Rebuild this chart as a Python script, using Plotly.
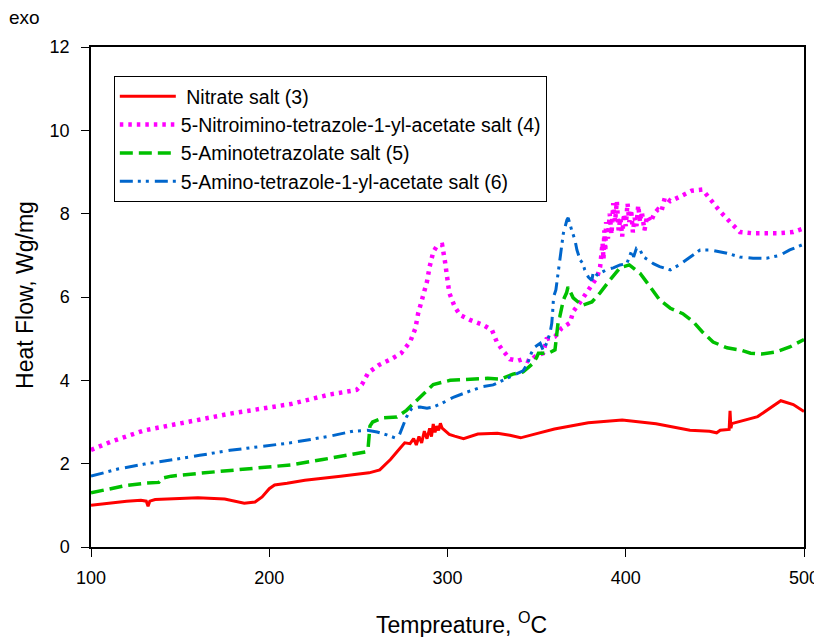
import plotly.graph_objects as go

# ---------------- data ----------------
nitrate_T = [100, 110, 120, 128, 131, 132, 133, 136, 145, 160, 175, 186, 192, 196, 200, 203, 210, 220, 240, 256,
             262, 268, 273, 276, 279, 281, 282.5, 284, 285.5, 287, 288.5, 290, 291, 292, 293, 294, 295, 296, 297,
             298.6, 301, 304, 309, 317, 328, 335, 341, 350, 360, 379, 398, 417, 436, 447, 451, 453, 458, 458.5,
             459, 459.5, 461, 474, 487, 494, 500]
nitrate_V = [1.0, 1.05, 1.1, 1.12, 1.1, 0.98, 1.1, 1.14, 1.16, 1.18, 1.15, 1.05, 1.08, 1.2, 1.4, 1.49, 1.53, 1.6, 1.7, 1.78,
             1.85, 2.1, 2.35, 2.5, 2.48, 2.6, 2.45, 2.65, 2.5, 2.78, 2.6, 2.85, 2.65, 2.95, 2.75, 2.9, 2.8, 2.97, 2.85,
             2.78, 2.7, 2.66, 2.6, 2.71, 2.73, 2.68, 2.62, 2.72, 2.83, 2.98, 3.05, 2.96, 2.8, 2.78, 2.74, 2.8, 2.82, 3.27,
             2.85, 2.96, 2.98, 3.13, 3.51, 3.42, 3.25]

nitroimino_T = [100, 112, 130, 161, 178, 212, 234, 249, 252, 255.5, 261.6, 268, 274, 279, 282, 283.5, 286, 288.5, 290,
                292, 294, 297, 298.6, 299.6, 301, 304, 307, 312.6, 320, 325, 327.6, 330.4, 335, 339.6, 342.4, 346,
                349, 353.6, 355.6, 360.3, 364, 368.7, 370.5, 374, 378, 381, 384, 385.6,
                387, 387.5, 388, 388.5, 389, 390, 391, 392, 393, 394, 395, 396, 397, 398, 399, 400, 401, 402, 403,
                404, 405, 406, 407, 408, 409, 410.5, 412, 414, 416, 418, 420, 422, 425, 430, 437, 443, 447, 453,
                458.5, 464, 471, 485, 494, 500]
nitroimino_V = [2.33, 2.54, 2.8, 3.05, 3.2, 3.43, 3.66, 3.77, 3.9, 4.18, 4.37, 4.5, 4.65, 4.92, 5.25, 5.6, 5.97, 6.37, 6.73,
                7.08, 7.22, 7.25, 6.85, 6.45, 6.1, 5.77, 5.57, 5.45, 5.33, 5.2, 4.93, 4.75, 4.51, 4.47, 4.51, 4.45,
                4.57, 4.65, 4.99, 5.05, 5.25, 5.38, 5.65, 5.85, 6.1, 6.3, 6.48, 6.72,
                7.3, 6.9, 7.6, 7.1, 7.8, 7.4, 8.0, 7.5, 8.25, 7.8, 8.3, 7.6, 7.9, 7.45, 8.0, 7.7, 8.25, 7.8, 8.1,
                7.55, 7.9, 7.7, 8.2, 7.8, 8.05, 7.6, 7.95, 7.8, 8.0, 8.1, 8.05, 8.4, 8.3, 8.4, 8.55, 8.58, 8.35, 8.05,
                7.8, 7.56, 7.53, 7.53, 7.56, 7.65]

aminotetrazolate_T = [100, 110, 120, 130, 138, 140, 145, 161, 180, 200, 212, 230, 245, 254, 255.5, 256.5, 258, 264,
                      271.6, 277, 283, 288.5, 292, 301.5, 313, 322.5, 330, 336.7, 342.4, 345, 348, 350, 351, 353.6,
                      357.5, 360.3, 361, 362, 363, 365, 366.8, 367.6, 370.5, 375.5, 381, 385.6, 391, 396.8, 402,
                      408, 413.6, 419, 425, 432, 438, 443, 449, 456.8, 465, 470, 476, 484, 492, 500]
aminotetrazolate_V = [1.3, 1.4, 1.48, 1.53, 1.55, 1.65, 1.7, 1.77, 1.85, 1.93, 1.97, 2.1, 2.2, 2.28, 2.4, 2.9, 3.0, 3.1,
                      3.12, 3.28, 3.53, 3.77, 3.9, 4.0, 4.03, 4.05, 4.03, 4.15, 4.2, 4.3, 4.41, 4.55, 4.65, 4.65,
                      4.67, 4.73, 5.05, 5.37, 5.53, 5.93, 6.1, 6.24, 5.98, 5.8, 5.88, 6.1, 6.4, 6.7, 6.77,
                      6.57, 6.25, 5.93, 5.73, 5.6, 5.4, 5.16, 4.92, 4.78, 4.72, 4.65, 4.63, 4.68, 4.8, 4.98]

aminoacetate_T = [100, 115, 130, 145, 161, 178, 196, 212, 234, 247, 255, 260.5, 266, 270.5, 273, 275, 277, 280, 284.6,
                  288.5, 292, 296, 303.6, 313, 320, 325.6, 331, 336.7, 342.4, 345, 347, 349, 352, 353.6, 355.6,
                  357.5, 358.5, 359, 359.5, 360.8, 363, 365, 367, 367.7, 369.7, 371.5, 372.6, 374.4, 376, 377, 379,
                  381, 381.8, 384, 385.6, 389, 393, 396.8, 400.6, 403.5, 404.4, 406, 408, 410, 412.6, 415.5, 419,
                  425, 430, 436, 441.7, 447, 456.8, 464, 471.4, 479, 486.5, 492, 500]
aminoacetate_V = [1.7, 1.87, 1.99, 2.1, 2.2, 2.32, 2.42, 2.5, 2.66, 2.78, 2.8, 2.76, 2.69, 2.62, 2.69, 2.93, 3.12, 3.33, 3.36,
                  3.33, 3.36, 3.43, 3.6, 3.75, 3.85, 3.89, 4.0, 4.12, 4.23, 4.41, 4.65, 4.8, 4.89, 4.73, 4.89,
                  5.13, 5.37, 5.65, 6.0, 6.17, 6.89, 7.53, 7.85, 7.9, 7.6, 7.37, 7.13, 6.89, 6.8, 6.65, 6.48,
                  6.4, 6.6, 6.53, 6.57, 6.65, 6.7, 6.77, 6.8, 7.13, 6.96, 7.17, 7.13, 6.96, 6.89, 6.8, 6.73,
                  6.65, 6.77, 6.96, 7.13, 7.13, 7.05, 6.96, 6.93, 6.93, 7.0, 7.13, 7.27]

series_names = [" Nitrate salt (3)",
                "5-Nitroimino-tetrazole-1-yl-acetate salt (4)",
                "5-Aminotetrazolate salt (5)",
                "5-Amino-tetrazole-1-yl-acetate salt (6)"]

x_ticks = [100, 200, 300, 400, 500]
y_ticks = [0, 2, 4, 6, 8, 10, 12]

x_title = "Tempreature, <sup>O</sup>C"
y_title = "Heat Flow, Wg/mg"

# ---------------- figure ----------------
FONT = "Arial, Liberation Sans, sans-serif"
fig = go.Figure()

styles = [
    dict(color="#ff0000", width=3, dash="solid"),
    dict(color="#ff00ff", width=4.5, dash="3.5px,5px"),
    dict(color="#00c000", width=3.5, dash="13px,6px"),
    dict(color="#0066cc", width=3, dash="13px,5px,3px,5px,3px,6px"),
]
data = [(nitrate_T, nitrate_V), (nitroimino_T, nitroimino_V),
        (aminotetrazolate_T, aminotetrazolate_V), (aminoacetate_T, aminoacetate_V)]

for i, ((xs, ys), name, st) in enumerate(zip(data, series_names, styles)):
    fig.add_trace(go.Scatter(x=xs, y=ys, mode="lines", name=name, line=st,
                             legendgroup=f"g{i}"))

axis_common = dict(showline=True, linecolor="black", linewidth=1.5, mirror=True,
                   ticks="outside", ticklen=8, tickcolor="black", tickwidth=1.2,
                   showgrid=False, zeroline=False, automargin=False,
                   ticklabeloverflow="allow",
                   tickfont=dict(family=FONT, size=18, color="black"))

fig.update_xaxes(range=[100, 500], tickvals=x_ticks, ticklabelstandoff=6, **axis_common)
fig.update_yaxes(range=[0, 12], tickvals=y_ticks, ticklabelstandoff=8, **axis_common)

title_font = dict(family=FONT, size=23, color="black")
fig.update_layout(
    width=814, height=629,
    margin=dict(l=83, r=18, t=39, b=90),
    plot_bgcolor="white", paper_bgcolor="white",
    font=dict(family=FONT, color="black"),
    legend=dict(x=0.032, y=0.942, xanchor="left", yanchor="top",
                bordercolor="black", borderwidth=1, bgcolor="white",
                font=dict(family=FONT, size=19.5, color="black"),
                itemwidth=56, tracegroupgap=0, traceorder="normal"),
    annotations=[
        dict(text="exo", xref="paper", yref="paper",
             x=-0.0926, y=1.058, xanchor="center", yanchor="middle",
             showarrow=False, font=dict(family=FONT, size=19, color="black")),
        dict(text=x_title, xref="paper", yref="paper",
             x=0.52, y=-0.152, xanchor="center", yanchor="middle",
             showarrow=False, font=title_font),
        dict(text=y_title, xref="paper", yref="paper", textangle=-90,
             x=-0.0926, y=0.504, xanchor="center", yanchor="middle",
             showarrow=False, font=title_font),
    ],
)

fig.write_html("out.html")
